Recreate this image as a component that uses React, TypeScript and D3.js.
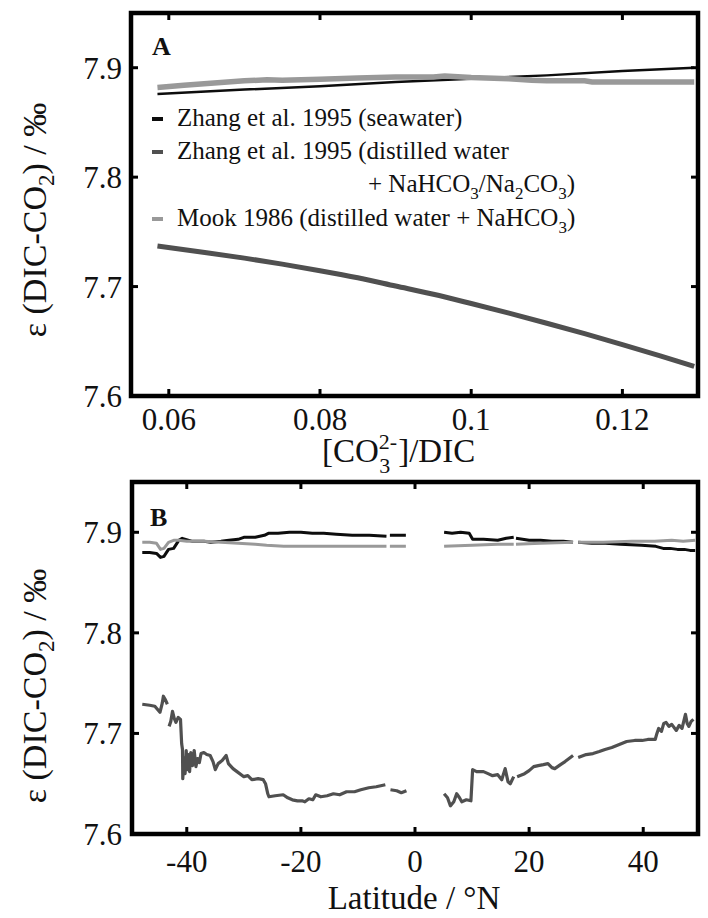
import React from "react";
import * as d3 from "d3";

// ---------- Panel A data ----------
const seaX = [0.0585, 0.07, 0.08, 0.09, 0.1, 0.11, 0.12, 0.1295];
const seaY = [7.876, 7.880, 7.883, 7.887, 7.890, 7.893, 7.897, 7.900];

const distX = [0.0585, 0.065, 0.07, 0.075, 0.08, 0.085, 0.09, 0.095, 0.1, 0.105, 0.11, 0.115, 0.12, 0.125, 0.1295];
const distY = [7.737, 7.731, 7.726, 7.7205, 7.7145, 7.708, 7.7005, 7.693, 7.6845, 7.6757, 7.6665, 7.657, 7.647, 7.6367, 7.627];

const mookX = [0.0585, 0.062, 0.066, 0.07, 0.073, 0.075, 0.08, 0.085, 0.09, 0.095, 0.0965, 0.1, 0.105, 0.108, 0.11, 0.115, 0.116, 0.12, 0.125, 0.1295];
const mookY = [7.882, 7.884, 7.886, 7.888, 7.889, 7.8885, 7.8895, 7.8905, 7.8915, 7.8915, 7.8925, 7.891, 7.890, 7.8885, 7.888, 7.888, 7.887, 7.887, 7.887, 7.887];

const xTicksA = [0.06, 0.08, 0.1, 0.12];
const xTickLabelsA = ["0.06", "0.08", "0.1", "0.12"];
const yTicks = [7.6, 7.7, 7.8, 7.9];
const yTickLabels = ["7.6", "7.7", "7.8", "7.9"];

// ---------- Panel B data (NaN = gap) ----------
const seaLat = [-47.8, -46.5, -45.3, -44.6, -44.0, -43.2, -42.3, -41.4, -40.8, -39, -37, -35.8, -34, -32.6, -31, -30, -28, -26.4, -25.7, -24, -22, -20, -18, -16, -13.8, -11, -8, -5, NaN, -4.4, -3, -1.6, NaN, 5.1, 6.5, 8, 9.5, 10.1, 12, 14.5, 16, 17.3, NaN, 17.7, 20, 22, 24, 26, 27.7, NaN, 28.6, 31, 33.4, 36, 39.7, 42.2, 43.5, 44.7, 46, 47.2, 48.2, 49.1];
const seaVal = [7.880, 7.880, 7.879, 7.875, 7.876, 7.883, 7.884, 7.892, 7.894, 7.891, 7.891, 7.890, 7.891, 7.892, 7.893, 7.895, 7.895, 7.897, 7.899, 7.899, 7.900, 7.900, 7.899, 7.899, 7.898, 7.897, 7.897, 7.896, NaN, 7.897, 7.897, 7.897, NaN, 7.900, 7.899, 7.900, 7.899, 7.893, 7.893, 7.892, 7.894, 7.895, NaN, 7.894, 7.892, 7.892, 7.891, 7.891, 7.890, NaN, 7.890, 7.889, 7.889, 7.888, 7.887, 7.886, 7.884, 7.884, 7.883, 7.883, 7.882, 7.882];

const mookLat = [-47.8, -46.5, -45.3, -44.6, -44.0, -43.2, -42.3, -41.4, -40, -37, -34, -31, -28, -26, -23, -20, -15, -10, -5, NaN, -4.4, -1.6, NaN, 5.1, 10, 14.5, 17.3, NaN, 17.7, 22, 27.7, NaN, 28.6, 33, 38, 42, 45, 47, 49.1];
const mookVal = [7.890, 7.890, 7.889, 7.883, 7.884, 7.890, 7.892, 7.892, 7.891, 7.891, 7.890, 7.889, 7.888, 7.887, 7.886, 7.886, 7.886, 7.886, 7.886, NaN, 7.886, 7.886, NaN, 7.886, 7.887, 7.888, 7.888, NaN, 7.888, 7.889, 7.890, NaN, 7.890, 7.890, 7.891, 7.891, 7.892, 7.891, 7.892];

const distLat = [-47.8, -46.5, -45.6, -45.0, -44.7, -44.3, -44.1, -43.8, -43.4, NaN,
  -43.1, -42.8, -42.5, -42.2, -41.9, -41.5, -41.1, -40.9, -40.75, -40.7, -40.5, -40.3, -40.1, -39.9, -39.7, -39.5, -39.3, -39.0, -38.7, -38.4, -38.1, -37.8, -37.5, -37.0, -36.5, -35.9, -35.4, -35.0, -34.5, -33.8, -33.1, -32.7, -31.9, -31.2, -30.0, -29.3, -28.6, -27.5, -26.6, -26.2, -25.8, -25.6, -24.5, -23.1, -22.3, -21.5, -20.6, -19.8, -19.3, -18.6, -17.9, -17.4, -16.5, -15.4, -14.3, -13.2, -12.0, -10.6, -9.5, -8.1, -6.8, -5.2, NaN,
  -4.3, -3.2, -2.4, -1.5, NaN,
  5.1, 5.7, 6.2, 6.8, 7.3, 7.8, 8.2, 9.0, 9.8, 10.1, 10.8, 12.0, 12.8, 13.6, 14.5, 15.2, 15.8, 16.3, 16.7, 17.3, NaN,
  17.9, 19.2, 20.0, 20.8, 21.6, 22.5, 23.3, 24.0, 24.5, 25.5, 26.3, 27.0, 27.7, NaN,
  28.6, 30.0, 31.2, 32.3, 33.3, 34.5, 35.8, 37.1, 38.5, 39.8, 40.8, 42.1, 42.4, 42.7, 43.2, 43.6, 44.0, 44.5, 45.0, 45.8, 46.3, 46.8, 47.4, 47.7, 48.0, 48.4, 48.8];
const distVal = [7.729, 7.728, 7.727, 7.723, 7.721, 7.730, 7.737, 7.734, 7.729, NaN,
  7.707, 7.712, 7.722, 7.715, 7.711, 7.716, 7.714, 7.690, 7.684, 7.655, 7.676, 7.660, 7.683, 7.664, 7.679, 7.662, 7.681, 7.668, 7.683, 7.667, 7.675, 7.671, 7.680, 7.681, 7.679, 7.678, 7.672, 7.664, 7.670, 7.673, 7.678, 7.670, 7.665, 7.662, 7.657, 7.658, 7.654, 7.655, 7.654, 7.650, 7.640, 7.637, 7.638, 7.639, 7.636, 7.634, 7.633, 7.633, 7.632, 7.635, 7.634, 7.639, 7.637, 7.638, 7.640, 7.639, 7.642, 7.642, 7.644, 7.646, 7.647, 7.649, NaN,
  7.644, 7.643, 7.641, 7.643, NaN,
  7.640, 7.636, 7.628, 7.632, 7.640, 7.636, 7.632, 7.634, 7.633, 7.664, 7.662, 7.662, 7.660, 7.658, 7.659, 7.654, 7.665, 7.652, 7.650, 7.657, NaN,
  7.657, 7.660, 7.663, 7.667, 7.668, 7.669, 7.670, 7.666, 7.665, 7.669, 7.672, 7.675, 7.678, NaN,
  7.676, 7.679, 7.680, 7.682, 7.684, 7.686, 7.689, 7.692, 7.693, 7.693, 7.694, 7.694, 7.700, 7.705, 7.702, 7.710, 7.711, 7.707, 7.709, 7.703, 7.708, 7.705, 7.719, 7.710, 7.707, 7.712, 7.714];

const xTicksB = [-40, -20, 0, 20, 40];
const xTickLabelsB = ["-40", "-20", "0", "20", "40"];

const C_BLACK = "#0d0d0d";
const C_DARK = "#505050";
const C_LIGHT = "#999999";
const FONT = "'Liberation Serif', 'Times New Roman', serif";

const zip = (xs: number[], ys: number[]) => xs.map((x, i) => [x, ys[i]] as [number, number]);

function Frame({ x0, x1, y0, y1, xTicks, yScale, xScale }: any) {
  const tl = 7;
  return (
    <g>
      {xTicks.map((t: number, i: number) => (
        <g key={"xt" + i}>
          <line x1={xScale(t)} x2={xScale(t)} y1={y1} y2={y1 - tl} stroke="#000" strokeWidth={3} />
          <line x1={xScale(t)} x2={xScale(t)} y1={y0} y2={y0 + tl} stroke="#000" strokeWidth={3} />
        </g>
      ))}
      {yTicks.map((t, i) => (
        <g key={"yt" + i}>
          <line x1={x0} x2={x0 + tl} y1={yScale(t)} y2={yScale(t)} stroke="#000" strokeWidth={3} />
          <line x1={x1} x2={x1 - tl} y1={yScale(t)} y2={yScale(t)} stroke="#000" strokeWidth={3} />
        </g>
      ))}
      <rect x={x0} y={y0} width={x1 - x0} height={y1 - y0} fill="none" stroke="#000" strokeWidth={4.5} />
    </g>
  );
}

function YLabel({ cx, cy }: { cx: number; cy: number }) {
  return (
    <text transform={`translate(${cx},${cy}) rotate(-90)`} textAnchor="middle" fontFamily={FONT} fontSize={34} fill="#111">
      ε (DIC-CO<tspan fontSize={23} dy={8}>2</tspan><tspan dy={-8}>) / ‰</tspan>
    </text>
  );
}

export default function App() {
  // Panel A geometry
  const xA = d3.scaleLinear().domain([0.055, 0.13]).range([131, 698]);
  const yA = d3.scaleLinear().domain([7.6, 7.95]).range([396, 13]);
  // Panel B geometry
  const xB = d3.scaleLinear().domain([-49.6, 49.6]).range([132, 698]);
  const yB = d3.scaleLinear().domain([7.6, 7.95]).range([834, 482]);

  const lineA = d3.line<[number, number]>().x((d) => xA(d[0])).y((d) => yA(d[1]));
  const lineASmooth = d3.line<[number, number]>().curve(d3.curveMonotoneX).x((d) => xA(d[0])).y((d) => yA(d[1]));
  const lineB = d3
    .line<[number, number]>()
    .defined((d) => !isNaN(d[0]) && !isNaN(d[1]))
    .x((d) => xB(d[0]))
    .y((d) => yB(d[1]));

  const legendItems = [
    { color: C_BLACK, y: 126 },
    { color: C_DARK, y: 159 },
    { color: C_LIGHT, y: 226 },
  ];

  return (
    <svg width={708} height={918} style={{ position: "absolute", left: 0, top: 0, background: "#fff" }}>
      <rect x={0} y={0} width={708} height={918} fill="#fff" />
      {/* ---------------- Panel A ---------------- */}
      <g>
        <path d={lineA(zip(seaX, seaY)) || ""} fill="none" stroke={C_BLACK} strokeWidth={2.5} />
        <path d={lineASmooth(zip(distX, distY)) || ""} fill="none" stroke={C_DARK} strokeWidth={5} />
        <path d={lineA(zip(mookX, mookY)) || ""} fill="none" stroke={C_LIGHT} strokeWidth={5.5} />
        <Frame x0={131} x1={698} y0={13} y1={396} xTicks={xTicksA} xScale={xA} yScale={yA} />
        {xTicksA.map((t, i) => (
          <text key={"xla" + i} x={xA(t)} y={430} textAnchor="middle" fontFamily={FONT} fontSize={31} fill="#111">
            {xTickLabelsA[i]}
          </text>
        ))}
        {yTicks.map((t, i) => (
          <text key={"yla" + i} x={122} y={yA(t) + 11} textAnchor="end" fontFamily={FONT} fontSize={31} fill="#111">
            {yTickLabels[i]}
          </text>
        ))}
        <text x={152} y={55} fontFamily={FONT} fontSize={26} fontWeight="bold" fill="#111">A</text>
        {/* legend */}
        {legendItems.map((it, i) => (
          <rect key={"lg" + i} x={152} y={it.y - 9} width={11} height={4} fill={it.color} />
        ))}
        <g fontFamily={FONT} fontSize={25} fill="#111">
          <text x={177} y={126}>Zhang et al. 1995 (seawater)</text>
          <text x={177} y={159}>Zhang et al. 1995 (distilled water</text>
          <text x={368} y={192}>
            + NaHCO<tspan fontSize={17} dy={7}>3</tspan>
            <tspan dy={-7}>/Na</tspan>
            <tspan fontSize={17} dy={7}>2</tspan>
            <tspan dy={-7}>CO</tspan>
            <tspan fontSize={17} dy={7}>3</tspan>
            <tspan dy={-7}>)</tspan>
          </text>
          <text x={177} y={226}>
            Mook 1986 (distilled water + NaHCO<tspan fontSize={17} dy={7}>3</tspan>
            <tspan dy={-7}>)</tspan>
          </text>
        </g>
        <text x={322} y={462} fontFamily={FONT} fontSize={33} fill="#111">
          [CO<tspan fontSize={22} dy={-13}>2-</tspan>
          <tspan fontSize={22} dx={-18} dy={24}>3</tspan>
          <tspan dx={8} dy={-11}>]/DIC</tspan>
        </text>
        <YLabel cx={46} cy={220} />
      </g>

      {/* ---------------- Panel B ---------------- */}
      <g>
        <path d={lineB(zip(seaLat, seaVal)) || ""} fill="none" stroke={C_BLACK} strokeWidth={3} strokeLinejoin="round" />
        <path d={lineB(zip(distLat, distVal)) || ""} fill="none" stroke={C_DARK} strokeWidth={3.2} strokeLinejoin="round" />
        <path d={lineB(zip(mookLat, mookVal)) || ""} fill="none" stroke={C_LIGHT} strokeWidth={3} strokeLinejoin="round" />
        <Frame x0={132} x1={698} y0={482} y1={834} xTicks={xTicksB} xScale={xB} yScale={yB} />
        {xTicksB.map((t, i) => (
          <text key={"xlb" + i} x={xB(t)} y={872} textAnchor="middle" fontFamily={FONT} fontSize={31} fill="#111">
            {xTickLabelsB[i]}
          </text>
        ))}
        {yTicks.map((t, i) => (
          <text key={"ylb" + i} x={122} y={yB(t) + 11} textAnchor="end" fontFamily={FONT} fontSize={31} fill="#111">
            {yTickLabels[i]}
          </text>
        ))}
        <text x={150} y={526} fontFamily={FONT} fontSize={26} fontWeight="bold" fill="#111">B</text>
        <text x={414} y={909} textAnchor="middle" fontFamily={FONT} fontSize={33} fill="#111">Latitude / °N</text>
        <YLabel cx={46} cy={686} />
      </g>
    </svg>
  );
}
